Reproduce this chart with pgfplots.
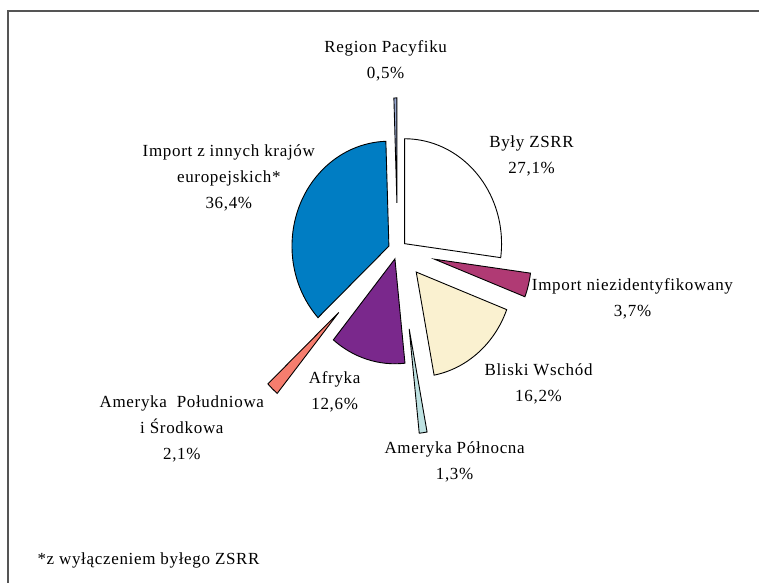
\documentclass[border=0pt]{standalone}
\usepackage{pgfplots}
\pgfplotsset{compat=1.18}
\usepackage{pgfplotstable}
\usepackage{fontspec}
\setmainfont{Liberation Serif}[LetterSpace=4]

\definecolor{c0}{RGB}{255,255,255}
\definecolor{c1}{RGB}{176,58,116}
\definecolor{c2}{RGB}{250,241,208}
\definecolor{c3}{RGB}{190,226,226}
\definecolor{c4}{RGB}{122,40,140}
\definecolor{c5}{RGB}{245,125,110}
\definecolor{c6}{RGB}{0,125,195}
\definecolor{c7}{RGB}{150,166,206}
\definecolor{framegray}{RGB}{85,85,85}

% share (%) and explosion distance of each slice, clockwise from the top
\pgfplotstableread{
idx value explode
0 27.1 9.3
1 3.7 38
2 16.2 29
3 1.3 80
4 12.6 9.5
5 2.1 86
6 36.4 9.5
7 0.5 47
}\pietable

\begin{document}
\begin{tikzpicture}
\begin{axis}[
  width=760pt, height=583pt, scale only axis,
  xmin=0, xmax=760, ymin=0, ymax=583, y dir=reverse,
  hide axis, clip=false,
  font=\fontsize{17}{26}\selectfont,
]
\path (axis cs:0,0) rectangle (axis cs:760,583);
\def\cum{0}
\def\total{99.9}
\pgfplotsforeachungrouped \i in {0,...,7}{%
  \pgfplotstablegetelem{\i}{value}\of\pietable \let\val=\pgfplotsretval
  \pgfplotstablegetelem{\i}{explode}\of\pietable \let\ex=\pgfplotsretval
  \pgfmathsetmacro{\ta}{90-\cum/\total*360}%
  \pgfmathsetmacro{\tb}{90-(\cum+\val)/\total*360}%
  \pgfmathsetmacro{\tm}{(\ta+\tb)/2}%
  \pgfmathsetmacro{\ax}{398+\ex*cos(\tm)}%
  \pgfmathsetmacro{\ay}{250-\ex*sin(\tm)}%
  \pgfmathsetmacro{\sx}{\ax+97*cos(\ta)}%
  \pgfmathsetmacro{\sy}{\ay-105*sin(\ta)}%
  \edef\doslice{\noexpand\filldraw[fill=c\i, draw=black, line width=0.9pt, line join=miter]
    (axis cs:\ax,\ay) -- (axis cs:\sx,\sy)
    arc[start angle=\ta, end angle=\tb, x radius=97pt, y radius=105pt] -- cycle;}%
  \doslice
  \pgfmathsetmacro{\cum}{\cum+\val}%
}

% frame (only top and left edges are inside the picture)
\draw[framegray, line width=1.3pt] (axis cs:8,583) -- (axis cs:8,11) -- (axis cs:760,11);

\node[align=center] at (axis cs:386,61) {Region Pacyfiku\\0,5\%};
\node[align=center] at (axis cs:532,156) {Były ZSRR\\27,1\%};
\node[align=center] at (axis cs:229,178) {Import z innych krajów\\europejskich*\\36,4\%};
\node[align=center] at (axis cs:633,299) {Import niezidentyfikowany\\3,7\%};
\node[align=center] at (axis cs:539,384) {Bliski Wschód\\16,2\%};
\node[align=center] at (axis cs:455,462) {Ameryka Północna\\1,3\%};
\node[align=center] at (axis cs:335,392) {Afryka\\12,6\%};
\node[align=center] at (axis cs:182,429) {Ameryka\ \ Południowa\\i Środkowa\\2,1\%};
\node[anchor=west] at (axis cs:34,561) {*z wyłączeniem byłego ZSRR};
\end{axis}
\end{tikzpicture}
\end{document}
